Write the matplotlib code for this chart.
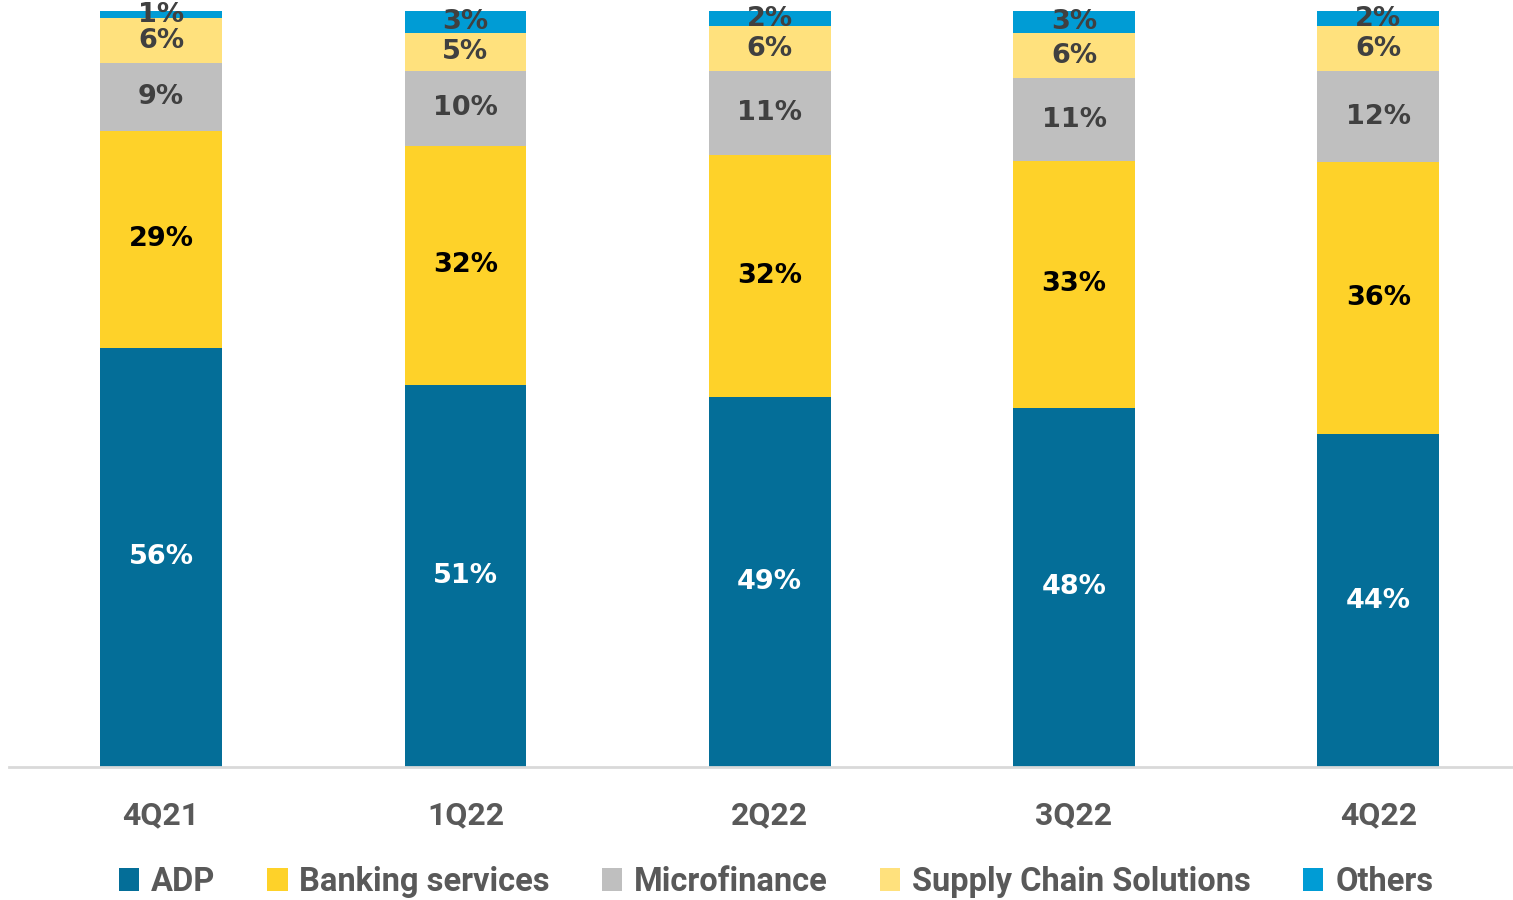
import numpy as np
import matplotlib.pyplot as plt

quarters = ['4Q21', '1Q22', '2Q22', '3Q22', '4Q22']
segments = ['ADP', 'Banking services', 'Microfinance', 'Supply Chain Solutions', 'Others']

adp = [56, 51, 49, 48, 44]
banking = [29, 32, 32, 33, 36]
microfinance = [9, 10, 11, 11, 12]
supply_chain = [6, 5, 6, 6, 6]
others = [1, 3, 2, 3, 2]

colors = ['#046E98', '#FED229', '#BFBFBF', '#FFE17D', '#009CD5']
label_colors = ['white', 'black', '#404040', '#404040', '#404040']
cond_font = ['Roboto', 'DejaVu Sans']

values = np.array([adp, banking, microfinance, supply_chain, others], dtype=float)
# rounded shares don't always add up to 100, so scale each column to its total
shares = values / values.sum(axis=0) * 100

fig = plt.figure(figsize=(15.13, 9), dpi=100)
ax = fig.add_axes([9 / 1513, 133 / 900, 1504 / 1513, 756 / 900])

x = np.arange(len(quarters))
bottom = np.zeros(len(quarters))
for i, name in enumerate(segments):
    ax.bar(x, shares[i], 0.4, bottom=bottom, color=colors[i], label=name)
    for j in range(len(quarters)):
        ax.text(x[j], bottom[j] + shares[i][j] / 2, '%d%%' % values[i][j],
                ha='center', va='center', fontsize=19.5, fontweight='bold',
                color=label_colors[i], family=['DejaVu Sans'])
    bottom += shares[i]

ax.set_xlim(-0.5, -0.5 + 1504 / 304.3)
ax.set_ylim(0, 100)
ax.set_yticks([])
ax.set_xticks(x)
ax.set_xticklabels(quarters, fontsize=23, fontweight='bold', color='#595959',
                   family=cond_font)
ax.tick_params(axis='x', length=0, pad=24)
for side in ['top', 'right', 'left']:
    ax.spines[side].set_visible(False)
ax.spines['bottom'].set_color('#D9D9D9')
ax.spines['bottom'].set_linewidth(2)

fig.legend(loc='center', bbox_to_anchor=(776 / 1513, 1 - 882 / 900), ncol=5,
           frameon=False, handlelength=0.62, handleheight=0.68, handletextpad=0.36,
           columnspacing=1.6,
           prop={'family': cond_font, 'weight': 'bold', 'size': 23.5},
           labelcolor='#595959')

fig.savefig('out.png', dpi=100)
